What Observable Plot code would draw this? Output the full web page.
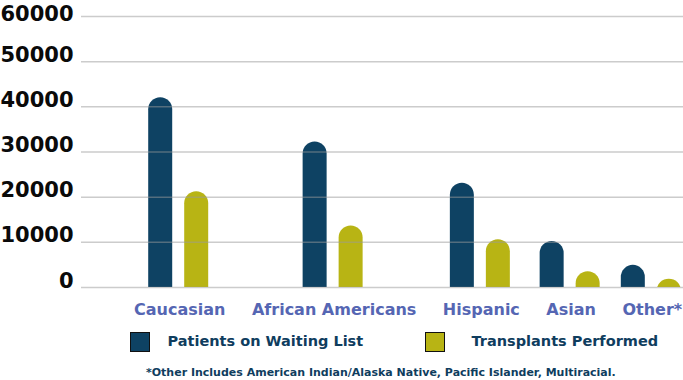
<!DOCTYPE html>
<html>
<head>
<meta charset="utf-8">
<script src="https://cdn.jsdelivr.net/npm/d3@7"></script>
<script src="https://cdn.jsdelivr.net/npm/@observablehq/plot@0.6"></script>
<style>
  html, body { margin: 0; padding: 0; background: #ffffff; }
  #wrap { position: relative; width: 683px; height: 380px; overflow: hidden; font-family: "DejaVu Sans", sans-serif; }
  #chart { position: absolute; left: 0; top: 0; }
  #cats { position: absolute; left: 134px; top: 302px; display: flex; gap: 26.5px; white-space: nowrap;
          font: bold 16px/16px "DejaVu Sans", sans-serif; color: #5566b3; }
  .leg { position: absolute; top: 331.5px; display: flex; align-items: center; white-space: nowrap; }
  .sw { width: 20px; height: 20px; box-sizing: border-box; border: 1.5px solid #111; }
  .lt { font: bold 14.5px/14.5px "DejaVu Sans", sans-serif; color: #0f3d5e; }
  #note { position: absolute; left: 146px; top: 366.7px; white-space: nowrap;
          font: bold 11px/11px "DejaVu Sans", sans-serif; color: #0f3d5e; }
</style>
</head>
<body>
<div id="wrap">
  <div id="chart"></div>
  <div id="cats"></div>
  <div class="leg" id="leg0" style="left:130px"></div>
  <div class="leg" id="leg1" style="left:425px"></div>
  <div id="note"></div>
</div>
<script>
// ---- data ----
const categories = ["Caucasian", "African Americans", "Hispanic", "Asian", "Other*"];
const seriesNames = ["Patients on Waiting List", "Transplants Performed"];
const waitingList = [42000, 32200, 23100, 10200, 4900];
const transplants = [21200, 13600, 10550, 3500, 1800];
const yTicks = [0, 10000, 20000, 30000, 40000, 50000, 60000];
const seriesColors = ["#0e4263", "#b8b414"];
const footnote = "*Other Includes American Indian/Alaska Native, Pacific Islander, Multiracial.";

const rows = [];
categories.forEach((c, i) => {
  rows.push({category: c, series: seriesNames[0], value: waitingList[i]});
  rows.push({category: c, series: seriesNames[1], value: transplants[i]});
});

// ---- category labels (flow layout, like the original) ----
const wrap = document.getElementById("wrap");
const cats = document.getElementById("cats");
categories.forEach(c => {
  const s = document.createElement("span");
  s.textContent = c;
  cats.appendChild(s);
});
const wrapBox = wrap.getBoundingClientRect();
const centers = {};
Array.from(cats.children).forEach((s, i) => {
  const b = s.getBoundingClientRect();
  centers[categories[i]] = b.left - wrapBox.left + b.width / 2;
});

// ---- legend ----
seriesNames.forEach((name, i) => {
  const leg = document.getElementById("leg" + i);
  const sw = document.createElement("div");
  sw.className = "sw";
  sw.style.background = seriesColors[i];
  const t = document.createElement("span");
  t.className = "lt";
  t.textContent = name;
  t.style.marginLeft = i === 0 ? "17.5px" : "26.5px";
  leg.appendChild(sw);
  leg.appendChild(t);
});
document.getElementById("note").textContent = footnote;

// ---- chart ----
const half = 18;   // half distance between the two bars of a group
const bw = 12;     // half bar width
const shift = -1.5; // groups sit slightly left of their label centers
const offset = s => (s === seriesNames[0] ? -half : half) + shift;

const topTick = yTicks[yTicks.length - 1];
const axisStyle = {
  label: null,
  tickSize: 0,
  tickPadding: 8,
  tickFormat: "d",
  fontSize: 21,
  fontWeight: "bold",
  fontFamily: "DejaVu Sans",
  fill: "#0a0a0a",
  lineAnchor: "bottom"
};

const chart = Plot.plot({
  width: 683,
  height: 295,
  marginLeft: 81,
  marginRight: 0,
  marginTop: 16,
  marginBottom: 8,
  style: {background: "transparent", fontFamily: "DejaVu Sans", overflow: "visible"},
  x: {type: "identity", axis: null},
  y: {domain: [0, 60000], axis: null},
  color: {domain: seriesNames, range: seriesColors},
  marks: [
    Plot.rectY(rows, {
      x1: d => centers[d.category] + offset(d.series) - bw,
      x2: d => centers[d.category] + offset(d.series) + bw,
      y1: 0,
      y2: "value",
      fill: "series",
      rx: 12,
      insetBottom: -14,
      clip: true
    }),
    Plot.gridY(yTicks, {stroke: "#9a9a9a", strokeOpacity: 0.5, strokeWidth: 1.5}),
    Plot.axisY(yTicks.filter(t => t !== topTick), axisStyle),
    // the top label is nudged down a little so it is not cut at the top edge
    Plot.axisY([topTick], {...axisStyle, dy: 4})
  ]
});
document.getElementById("chart").appendChild(chart);
</script>
</body>
</html>
